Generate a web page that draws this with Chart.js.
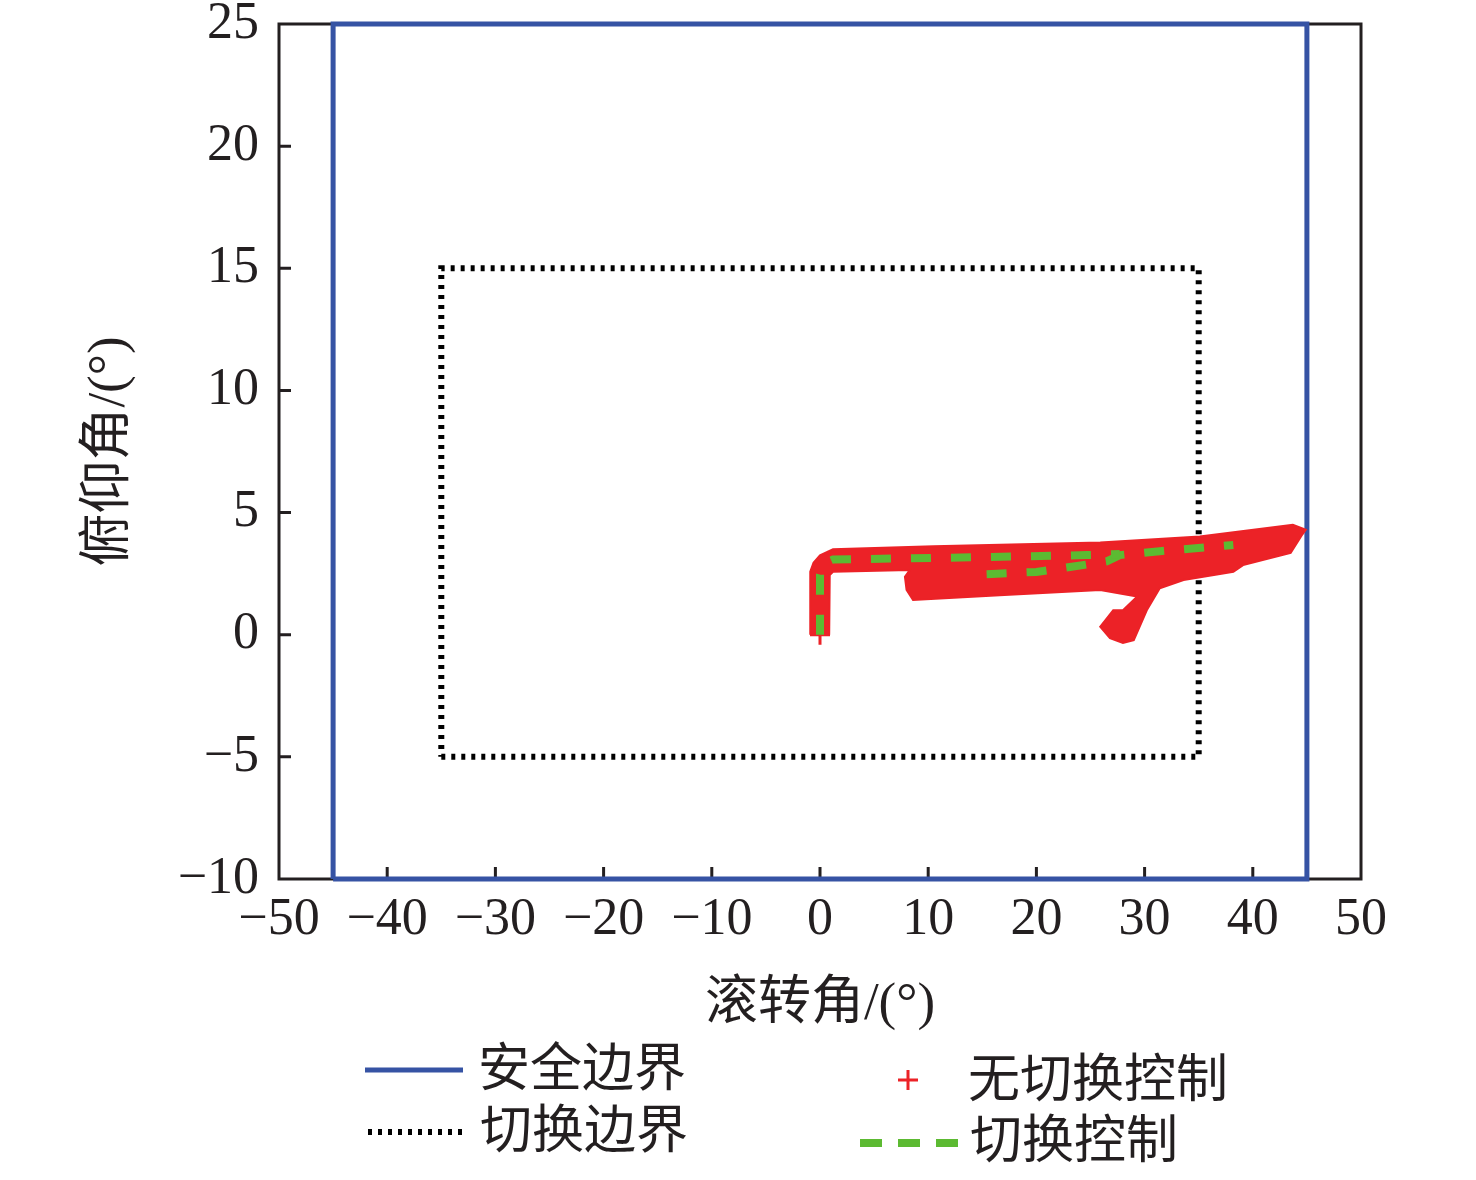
<!DOCTYPE html>
<html>
<head>
<meta charset="utf-8">
<script src="https://cdn.jsdelivr.net/npm/chart.js@4.4.0/dist/chart.umd.min.js"></script>
<style>
  body { margin: 0; background: #fff; }
</style>
</head>
<body>
<canvas id="mycanvas" width="1476" height="1180"></canvas>
<script>
// axis ranges
var xMin = -50, xMax = 50, xStep = 10;
var yMin = -10, yMax = 25, yStep = 5;

// 安全边界 (safety boundary)
var safeX = [-45, 45, 45, -45, -45];
var safeY = [-10, -10, 25, 25, -10];

// 切换边界 (switching boundary)
var switchX = [-35, 35, 35, -35, -35];
var switchY = [-5, -5, 15, 15, -5];

// 无切换控制 - outline of the dense "+" cloud
var redX = [-0.9, -0.9, -0.6, 0, 1.2, 10.5, 25.9, 35.1, 43.7, 44.9, 44.5, 43.5, 39.1, 38.2, 33.6, 31.4,
            30.2, 29.0, 28.0, 26.8, 25.9, 27.1, 28.0, 29.3, 25.9, 16.6, 8.6, 8.0, 7.85, 8.3, 1.2, 0.9, 0.85];
var redY = [0, 2.58, 2.95, 3.25, 3.5, 3.62, 3.77, 4.02, 4.5, 4.3, 4.05, 3.35, 2.85, 2.58, 2.24, 1.9,
            1.0, -0.22, -0.34, -0.14, 0.33, 1.0, 1.0, 1.56, 1.83, 1.62, 1.42, 1.83, 2.37, 2.65, 2.58, 2.44, 0];

// 切换控制 (switching control) - two dashed traces
var greenX = [0, 0, 0.3, 1.2, 13, 24.7, 27.7];
var greenY = [0, 2.45, 2.9, 3.08, 3.16, 3.26, 3.3];
var green2X = [15.4, 20, 23.1, 26.5, 27.7, 31.4, 38.2];
var green2Y = [2.48, 2.57, 2.77, 3.0, 3.26, 3.42, 3.67];

function pts(xs, ys) {
  var out = [];
  for (var i in xs) out.push({ x: xs[i], y: ys[i] });
  return out;
}

var blue = '#3653a4', red = '#ec2227', green = '#5cba32', ink = '#231f20';
var serif = "'Liberation Serif', 'Noto Sans CJK SC', serif";

// box around plot + inward tick marks
var framePlugin = {
  id: 'frame',
  beforeDatasetsDraw: function(chart) {
    var ctx = chart.ctx, a = chart.chartArea;
    var xs = chart.scales.x, ys = chart.scales.y;
    ctx.save();
    ctx.strokeStyle = ink;
    ctx.lineWidth = 3;
    ctx.strokeRect(a.left, a.top, a.right - a.left, a.bottom - a.top);
    ctx.beginPath();
    for (var v = xMin + xStep; v < xMax; v += xStep) {
      var px = xs.getPixelForValue(v);
      ctx.moveTo(px, a.bottom);
      ctx.lineTo(px, a.bottom - 12);
    }
    for (var w = yMin + yStep; w < yMax; w += yStep) {
      var py = ys.getPixelForValue(w);
      ctx.moveTo(a.left, py);
      ctx.lineTo(a.left + 12, py);
    }
    ctx.stroke();
    ctx.restore();
  }
};

// two-column legend under the axis title
var legendPlugin = {
  id: 'sideLegend',
  afterDraw: function(chart) {
    var ctx = chart.ctx;
    ctx.save();
    ctx.font = "52px " + serif;
    ctx.fillStyle = ink;
    ctx.textBaseline = 'middle';
    ctx.textAlign = 'left';

    ctx.lineCap = 'butt';
    ctx.strokeStyle = blue; ctx.lineWidth = 5; ctx.setLineDash([]);
    ctx.beginPath(); ctx.moveTo(365, 1070); ctx.lineTo(463, 1070); ctx.stroke();
    ctx.fillText('安全边界', 478, 1072);

    ctx.strokeStyle = '#000'; ctx.lineWidth = 6; ctx.setLineDash([4, 6]);
    ctx.beginPath(); ctx.moveTo(368, 1132); ctx.lineTo(463, 1132); ctx.stroke();
    ctx.fillText('切换边界', 480, 1134);

    ctx.setLineDash([]);
    ctx.strokeStyle = red; ctx.lineWidth = 3;
    ctx.beginPath();
    ctx.moveTo(898, 1080); ctx.lineTo(918, 1080);
    ctx.moveTo(908, 1070); ctx.lineTo(908, 1090);
    ctx.stroke();
    ctx.fillText('无切换控制', 968, 1083);

    ctx.strokeStyle = green; ctx.lineWidth = 8; ctx.setLineDash([22, 16]);
    ctx.beginPath(); ctx.moveTo(860, 1143); ctx.lineTo(958, 1143); ctx.stroke();
    ctx.fillText('切换控制', 970, 1144);
    ctx.restore();
  }
};

var ctx = document.getElementById('mycanvas');
var chart = new Chart(ctx, {
  type: 'scatter',
  data: {
    datasets: [
      { label: '切换控制', data: pts(greenX, greenY), showLine: true, borderColor: green, borderWidth: 8,
        borderDash: [20, 20], pointRadius: 0, fill: false, order: 0 },
      { label: '切换控制', data: pts(green2X, green2Y), showLine: true, borderColor: green, borderWidth: 8,
        borderDash: [20, 20], pointRadius: 0, fill: false, order: 0 },
      { label: '无切换控制', data: pts(redX, redY), showLine: true, borderColor: red, borderWidth: 2,
        backgroundColor: red, fill: 'shape', pointRadius: 0, order: 1 },
      { label: '无切换控制', data: [{ x: 0, y: 0 }], pointStyle: 'cross', pointRadius: 10, borderWidth: 3,
        borderColor: red, order: 1 },
      { label: '切换边界', data: pts(switchX, switchY), showLine: true, borderColor: '#000', borderWidth: 6,
        borderDash: [4, 6], pointRadius: 0, fill: false, order: 2 },
      { label: '安全边界', data: pts(safeX, safeY), showLine: true, borderColor: blue, borderWidth: 5,
        pointRadius: 0, fill: false, order: 3, clip: false }
    ]
  },
  options: {
    responsive: false,
    animation: false,
    layout: { padding: { left: 78, right: 115, top: 24, bottom: 143 } },
    plugins: { legend: { display: false }, tooltip: { enabled: false } },
    elements: { line: { tension: 0 } },
    scales: {
      x: {
        type: 'linear', min: xMin, max: xMax,
        grid: { display: false }, border: { display: false },
        ticks: {
          stepSize: xStep, color: ink, padding: 7,
          font: { family: serif, size: 52, lineHeight: 1 },
          callback: function(v) { return String(v).replace('-', '\u2212'); }
        },
        title: { display: true, text: '滚转角/(°)', color: ink, padding: 0,
          font: { family: serif, size: 53 } },
        afterFit: function(s) { s.height = 158; s.paddingLeft = 0; s.paddingRight = 0; }
      },
      y: {
        type: 'linear', min: yMin, max: yMax,
        grid: { display: false }, border: { display: false },
        ticks: {
          stepSize: yStep, color: ink, padding: 12,
          font: { family: serif, size: 52, lineHeight: 1 },
          callback: function(v) { return String(v).replace('-', '\u2212'); }
        },
        title: { display: true, text: '俯仰角/(°)', color: ink, padding: 0,
          font: { family: serif, size: 53 } },
        afterFit: function(s) { s.width = 201; s.paddingTop = 0; s.paddingBottom = 0; }
      }
    }
  },
  plugins: [framePlugin, legendPlugin]
});
</script>
</body>
</html>
